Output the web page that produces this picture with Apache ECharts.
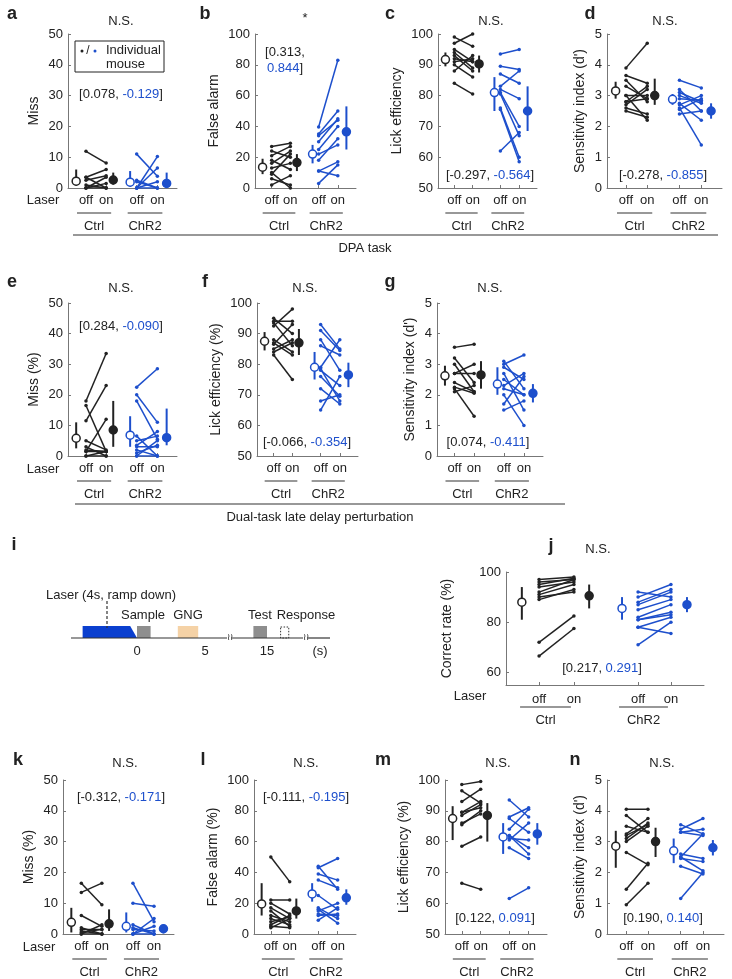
<!DOCTYPE html>
<html><head><meta charset="utf-8">
<script src="https://cdn.jsdelivr.net/npm/echarts@6/dist/echarts.min.js"></script>
<style>html,body{margin:0;background:#fff}#c{width:732px;height:979px}</style>
</head><body><div id="c"></div>
<script>
// ---------- DATA ----------
// x slots on a 0..10 axis: [ctrlMeanOff, ctrlOff, ctrlOn, ctrlMeanOn, chr2MeanOff, chr2Off, chr2On, chr2MeanOn]
const xSlots = [0.75, 1.65, 3.5, 4.15, 5.7, 6.3, 8.2, 9.05];
const xSlotsJ = [0.8, 1.67, 3.43, 4.2, 5.86, 6.67, 8.33, 9.14];
const laserLabels = ['off', 'on'];
const groupLabels = ['Ctrl', 'ChR2'];

// each pair: [laser off, laser on]; stats: [mean, low, high] for ctrlOff, ctrlOn, chr2Off, chr2On
const a_ctrl = [[11.9,8.1],[3.5,6.0],[2.5,4.0],[0,3.5],[3.5,0],[0,0],[1.0,0],[0,1.5]];
const a_chr2 = [[11,3.8],[0,10.2],[2.5,0],[0,6.5],[0,0],[2,0],[0,2]];
const a_stats = [[2.2,0.8,6],[2.6,1.1,5],[1.9,0.5,5.5],[1.5,0.2,5]];

const b_ctrl = [[27,29],[24,20],[21,27],[18,12],[16,24],[13,16],[9,22],[6,2],[2,8],[10,0]];
const b_chr2 = [[39.6,83],[35,50],[34,44],[30,45],[25,40],[22,28],[18,32],[11,17],[3,15],[11,8]];
const b_stats = [[13.5,9,19],[16.5,11,22],[22,16,28],[36.5,25,53]];

const c_ctrl = [[97,100],[99,96],[95,91],[93,88],[92,91],[91,92],[90,86],[88,93],[84,80.5],[94,89]];
const c_chr2 = [[93.5,95],[89.5,88.5],[87,84],[83,88],[82,79],[81,70],[80.5,67],[76,60],[62,68],[75.5,58.5]];
const c_stats = [[91.7,89.5,94],[90.3,87.5,93],[81,75,86],[75,68.5,83]];

const d_ctrl = [[3.9,4.7],[3.65,3.4],[3.5,2.8],[3.3,2.9],[3.0,3.0],[3.0,2.2],[2.8,2.9],[2.7,3.2],[2.6,2.4],[2.5,2.3],[2.8,3.3]];
const d_chr2 = [[3.5,3.25],[3.2,2.5],[3.1,2.8],[3.0,2.75],[2.9,2.85],[2.75,2.2],[2.6,1.4],[2.55,2.9],[2.4,2.5],[2.7,3.0]];
const d_stats = [[3.15,2.9,3.45],[3.0,2.7,3.55],[2.88,2.7,3.05],[2.5,2.25,2.75]];

const e_ctrl = [[18,33.5],[11.5,23],[16.5,1.5],[1.5,12],[5,2],[3,0],[0,1.5],[0,0],[1.5,1.5],[2,1.5]];
const e_chr2 = [[22.5,28.5],[20,11],[18,5.5],[5,6.5],[6.5,0],[3.5,8],[3,3],[0,5],[2,0],[0,0],[1,3.5]];
const e_stats = [[5.8,2.5,11],[8.5,3,18],[6.8,3,13],[6,3.5,15.5]];

const f_ctrl = [[95,90],[94,94],[92.5,98],[88,84],[86.5,93],[85,88],[84,87],[83,75],[87,83],[93.5,86]];
const f_chr2 = [[93,85],[91,84.5],[88,78],[86,83],[79,88],[78,73],[78.5,68],[72,67],[68,70],[65,76],[76,69.5]];
const f_stats = [[87.5,84.5,90.5],[87,83,91.5],[79,75,84],[76.5,72.5,80.5]];

const g_ctrl = [[3.55,3.65],[3.2,2.4],[2.7,3.0],[2.7,2.7],[2.4,2.1],[2.25,2.05],[2.2,1.3],[2.1,2.3],[3.0,2.1]];
const g_chr2 = [[3.0,3.3],[3.1,2.2],[2.9,2.5],[2.7,1.5],[2.5,2.0],[2.3,2.7],[2.0,1.0],[1.7,2.6],[1.5,1.8],[2.2,2.0]];
const g_stats = [[2.62,2.3,2.95],[2.65,2.2,3.1],[2.35,2.0,2.9],[2.05,1.75,2.35]];

const j_ctrl = [[97,98],[96,97],[95,97.5],[94,96],[92,97],[91,95],[89,93],[90,92],[72,82.5],[66.5,77.5]];
const j_chr2 = [[90,95],[88,93],[92,90],[87,92],[85,89],[82,87],[81,83],[78,82],[71,80],[78,75.5],[81,84]];
const j_stats = [[88,81,94],[90.5,85.5,95],[85.5,81,90],[87,84,90]];

const k_ctrl = [[13.5,16.5],[16.5,9.5],[6,2.5],[1.5,1.5],[0,3],[0,0],[1,0],[0.5,1.5],[2,0]];
const k_chr2 = [[16.5,4],[10,9],[3,0],[0,5],[2,0],[0,2.5],[0,0],[1.5,1]];
const k_stats = [[3.8,0.5,8.5],[3.3,1,8],[2.5,0.5,7],[1.7,0.2,3]];

const l_ctrl = [[50,34],[22,22],[20,13],[17,10],[15,5],[12,8],[8,11],[5,4],[4,10],[10,6],[6,12]];
const l_chr2 = [[43,49],[44,29],[39,35],[35,30],[25,16],[17,10],[15,20],[12,13],[9,17],[16,7],[13,12]];
const l_stats = [[19.5,12,33],[15,10,23],[26,21,33],[23.5,19,29]];

const m_ctrl = [[98.5,99.5],[96.5,92.5],[93,97],[89.5,93],[89.5,91],[88.5,92],[86,89],[85.5,90],[78.5,81.5],[66.5,64.5]];
const m_chr2 = [[93.5,88],[88,91],[87.5,83],[84,90.5],[82,78],[81,80.5],[80.5,86],[78,74.5],[82,76],[61.5,65]];
const m_stats = [[87.5,80.5,91.5],[88.5,80,92.5],[81.5,76,86],[82.5,79,86]];

const n_ctrl = [[4.05,4.05],[3.85,3.3],[3.5,3.3],[3.2,3.55],[3.25,3.75],[3.1,3.6],[2.65,2.25],[1.45,2.3],[0.95,1.65],[3.0,3.5]];
const n_chr2 = [[3.55,3.25],[3.4,3.75],[3.3,3.4],[2.6,2.45],[2.5,3.25],[2.45,2.35],[2.5,2.05],[2.2,1.95],[1.15,2.0],[3.3,3.2]];
const n_stats = [[2.85,2.15,3.35],[3.0,2.5,3.45],[2.7,2.3,3.1],[2.8,2.55,3.05]];

// correlation annotations [ctrl, chr2]
const corr = {a:['0.078','-0.129'],b:['0.313','0.844'],c:['-0.297','-0.564'],d:['-0.278','-0.855'],
  e:['0.284','-0.090'],f:['-0.066','-0.354'],g:['0.074','-0.411'],j:['0.217','0.291'],
  k:['-0.312','-0.171'],l:['-0.111','-0.195'],m:['0.122','0.091'],n:['0.190','0.140']};

// timeline schematic (seconds)
const iTicks = [0, 5, 15];
const iBlocks = [
  {name:'Sample', t0:0, t1:1, color:'#8e8e8e'},
  {name:'GNG', t0:3, t1:4.5, color:'#f5d2a6'},
  {name:'Test', t0:14, t1:15, color:'#8e8e8e'}
];
const iResponse = [16, 16.6];
const iLaser = [-4, -0.5, 0];

// ---------- LAYOUT ----------
const BLACK = '#222', BLUE = '#1d4fcc', AXIS = '#777';
const FONT = 'Liberation Sans, Arial, Helvetica, sans-serif';
const panels = [
  {k:'a', ctrl:a_ctrl, chr2:a_chr2, st:a_stats, g:[68,34,109,154], y:[0,50,10], name:'Miss', gap:27, title:'N.S.', tp:[121,21], lp:[12,14], an:[121,94], laser:[43,200]},
  {k:'b', ctrl:b_ctrl, chr2:b_chr2, st:b_stats, g:[255,34,101,154], y:[0,100,20], name:'False alarm', gap:34, title:'*', tp:[305,18], lp:[205,14], an:[285,52], twoLine:true},
  {k:'c', ctrl:c_ctrl, chr2:c_chr2, st:c_stats, g:[438,34,99,154], y:[50,100,10], name:'Lick efficiency', gap:34, title:'N.S.', tp:[491,21], lp:[390,14], an:[490,175]},
  {k:'d', ctrl:d_ctrl, chr2:d_chr2, st:d_stats, g:[607,34,115,154], y:[0,5,1], name:"Sensitivity index (d')", gap:20, title:'N.S.', tp:[665,21], lp:[590,14], an:[663,175]},
  {k:'e', ctrl:e_ctrl, chr2:e_chr2, st:e_stats, g:[68,303,109,153], y:[0,50,10], name:'Miss (%)', gap:27, title:'N.S.', tp:[121,288], lp:[12,282], an:[121,326], laser:[43,469]},
  {k:'f', ctrl:f_ctrl, chr2:f_chr2, st:f_stats, g:[257,303,101,153], y:[50,100,10], name:'Lick efficiency (%)', gap:34, title:'N.S.', tp:[305,288], lp:[205,282], an:[307,442]},
  {k:'g', ctrl:g_ctrl, chr2:g_chr2, st:g_stats, g:[437,303,106,153], y:[0,5,1], name:"Sensitivity index (d')", gap:20, title:'N.S.', tp:[490,288], lp:[390,282], an:[488,442]},
  {k:'j', ctrl:j_ctrl, chr2:j_chr2, st:j_stats, g:[506,572,198,113], y:[55,100,5], ticks:[60,80,100], name:'Correct rate (%)', gap:52, title:'N.S.', tp:[598,549], lp:[551,546], an:[602,668], laser:[470,696], xs:xSlotsJ, wide:true},
  {k:'k', ctrl:k_ctrl, chr2:k_chr2, st:k_stats, g:[63,780,111,154], y:[0,50,10], name:'Miss (%)', gap:27, title:'N.S.', tp:[125,763], lp:[18,760], an:[121,797], laser:[39,947]},
  {k:'l', ctrl:l_ctrl, chr2:l_chr2, st:l_stats, g:[254,780,102,154], y:[0,100,20], name:'False alarm (%)', gap:34, title:'N.S.', tp:[306,763], lp:[203,760], an:[306,797]},
  {k:'m', ctrl:m_ctrl, chr2:m_chr2, st:m_stats, g:[445,780,102,154], y:[50,100,10], name:'Lick efficiency (%)', gap:34, title:'N.S.', tp:[498,763], lp:[383,760], an:[495,918]},
  {k:'n', ctrl:n_ctrl, chr2:n_chr2, st:n_stats, g:[607,780,117,154], y:[0,5,1], name:"Sensitivity index (d')", gap:20, title:'N.S.', tp:[662,763], lp:[575,760], an:[663,918]}
];

const chart = echarts.init(document.getElementById('c'), null, {renderer:'canvas'});
const grids = [], xAxes = [], yAxes = [], series = [];

panels.forEach((p, i) => {
  const xs = p.xs || xSlots;
  grids.push({left:p.g[0], top:p.g[1], width:p.g[2], height:p.g[3], containLabel:false});
  const offOn = [xs[1], xs[2], xs[5], xs[6]];
  xAxes.push({gridIndex:i, type:'value', min:0, max:10,
    axisLine:{show:true, lineStyle:{color:AXIS, width:1}},
    axisTick:{show:true, inside:true, length:3, customValues:offOn, lineStyle:{color:AXIS}},
    axisLabel:{show:true, customValues:offOn, margin:p.wide?8:6, color:BLACK, fontSize:13, fontFamily:FONT,
      formatter: v => (Math.abs(v-xs[1])<1e-6 || Math.abs(v-xs[5])<1e-6) ? laserLabels[0] : laserLabels[1]},
    splitLine:{show:false}});
  const yAx = {gridIndex:i, type:'value', min:p.y[0], max:p.y[1],
    axisLine:{show:true, lineStyle:{color:AXIS, width:1}},
    axisTick:{show:true, inside:true, length:3, lineStyle:{color:AXIS}},
    axisLabel:{color:BLACK, fontSize:13, fontFamily:FONT, margin:5},
    splitLine:{show:false},
    name:p.name, nameLocation:'middle', nameGap:p.gap,
    nameTextStyle:{color:BLACK, fontSize:14, fontFamily:FONT}};
  if (p.ticks) { yAx.axisLabel.customValues = p.ticks; yAx.axisTick.customValues = p.ticks; }
  else { yAx.interval = p.y[2]; }
  yAxes.push(yAx);

  const addPairs = (pairs, x0, x1, color) => pairs.forEach(pr => series.push({
    type:'line', xAxisIndex:i, yAxisIndex:i, data:[[x0, pr[0]],[x1, pr[1]]],
    symbol:'circle', symbolSize:3.5, showSymbol:true, silent:true, z:2,
    lineStyle:{color, width:1.5}, itemStyle:{color, opacity:1}}));
  addPairs(p.ctrl, xs[1], xs[2], BLACK);
  addPairs(p.chr2, xs[5], xs[6], BLUE);
  const mx = [xs[0], xs[3], xs[4], xs[7]];
  const mc = [BLACK, BLACK, BLUE, BLUE];
  p.st.forEach((s, q) => {
    series.push({type:'line', xAxisIndex:i, yAxisIndex:i, data:[[mx[q], s[1]],[mx[q], s[2]]],
      symbol:'none', silent:true, z:3, lineStyle:{color:mc[q], width:2}});
    series.push({type:'scatter', xAxisIndex:i, yAxisIndex:i, data:[[mx[q], s[0]]], symbol:'circle',
      symbolSize:8, silent:true, z:4,
      itemStyle:{color: q%2===0 ? '#fff' : mc[q], borderColor:mc[q], borderWidth:1.5, opacity:1}});
  });
});

chart.setOption({animation:false, backgroundColor:'#fff', grid:grids, xAxis:xAxes, yAxis:yAxes, series});

// ---------- ANNOTATIONS ----------
const G = [];
const txt = (x, y, text, o={}) => G.push({type:'text', x, y, silent:true, z:10, style:Object.assign({
  text, fill:BLACK, font:(o.bold?'bold ':'') + (o.size||13) + 'px ' + FONT,
  align:o.align||'center', verticalAlign:'middle', textAlign:o.align||'center', textVerticalAlign:'middle'}, o.style||{})});
const line = (x1, y1, x2, y2, o={}) => G.push({type:'line', silent:true, z:10,
  shape:{x1, y1, x2, y2}, style:{stroke:o.color||BLACK, lineWidth:o.w||1, lineDash:o.dash||null}});
const richAnn = (x, y, a, b, twoLine) => {
  const rich = {k:{fill:BLACK, fontSize:13, fontFamily:FONT}, u:{fill:BLUE, fontSize:13, fontFamily:FONT}};
  const text = twoLine ? '{k|[' + a + ',}\n{u|' + b + '}{k|]}' : '{k|[' + a + ', }{u|' + b + '}{k|]}';
  G.push({type:'text', x, y, silent:true, z:10, style:{text, rich, align:'center', verticalAlign:twoLine?'top':'middle',
    textAlign:'center', textVerticalAlign:twoLine?'top':'middle', lineHeight:16, font:'13px ' + FONT}});
};

panels.forEach((p, i) => {
  const xs = p.xs || xSlots;
  txt(p.lp[0], p.lp[1], p.k, {bold:true, size:18});
  txt(p.tp[0], p.tp[1], p.title, {size:13});
  richAnn(p.an[0], p.twoLine ? p.an[1]-8 : p.an[1], corr[p.k][0], corr[p.k][1], p.twoLine);
  if (p.laser) txt(p.laser[0], p.laser[1], 'Laser', {size:13});
  const base = chart.convertToPixel({gridIndex:i}, [0, p.y[0]])[1];
  const uy = base + (p.wide ? 22 : 25);
  [[xs[1], xs[2]], [xs[5], xs[6]]].forEach((pr, q) => {
    const px0 = chart.convertToPixel({gridIndex:i}, [pr[0], p.y[0]])[0];
    const px1 = chart.convertToPixel({gridIndex:i}, [pr[1], p.y[0]])[0];
    const l0 = p.wide ? px0 - 19 : px0 - 9, l1 = p.wide ? px1 - 3 : px1 + 5;
    line(l0, uy, l1, uy, {color:'#333', w:1.2});
    txt((l0 + l1) / 2, uy + 13, groupLabels[q], {size:13});
  });
});

// panel a legend box
G.push({type:'rect', silent:true, z:10, shape:{x:75, y:41, width:89, height:31}, style:{fill:'#fff', stroke:BLACK, lineWidth:1}});
G.push({type:'circle', silent:true, z:11, shape:{cx:82, cy:51, r:1.5}, style:{fill:BLACK}});
txt(88, 51, '/', {size:12});
G.push({type:'circle', silent:true, z:11, shape:{cx:95, cy:51, r:1.5}, style:{fill:BLUE}});
txt(106, 50, 'Individual', {size:13, align:'left'});
txt(106, 64, 'mouse', {size:13, align:'left'});

// task brackets
line(73, 235, 718, 235, {color:'#333', w:1.2});
txt(365, 248, 'DPA task', {size:13});
line(75, 504, 565, 504, {color:'#333', w:1.2});
txt(320, 517, 'Dual-task late delay perturbation', {size:13});

// ---------- PANEL i schematic ----------
txt(14, 545, 'i', {bold:true, size:18});
const tx = t => t <= 10 ? 137 + t * 13.6 : 267 + (t - 15) * 13.6;
const yLine = 638, yTop = 626;
line(71, yLine, 227, yLine, {color:'#333', w:1.2});
line(232, yLine, 303, yLine, {color:'#333', w:1.2});
line(308, yLine, 330, yLine, {color:'#333', w:1.2});
txt(229.5, yLine, '≀≀', {size:9});
txt(305.5, yLine, '≀≀', {size:9});
G.push({type:'polygon', silent:true, z:9, shape:{points:[[tx(iLaser[0]), yLine],[tx(iLaser[0]), yTop],[tx(iLaser[1]), yTop],[tx(iLaser[2]), yLine]]}, style:{fill:'#0a3fcf'}});
iBlocks.forEach(b => G.push({type:'rect', silent:true, z:9, shape:{x:tx(b.t0), y:yTop, width:tx(b.t1)-tx(b.t0), height:yLine-yTop}, style:{fill:b.color}}));
G.push({type:'rect', silent:true, z:9, shape:{x:tx(iResponse[0]), y:yTop+1, width:tx(iResponse[1])-tx(iResponse[0]), height:yLine-yTop-1}, style:{fill:'none', stroke:'#333', lineWidth:1, lineDash:[1.5,1.5]}});
iTicks.forEach(t => txt(tx(t), 651, String(t), {size:13}));
txt(320, 651, '(s)', {size:13});
line(107, 601, 107, 628, {color:'#333', w:1.2, dash:[3,2]});
txt(111, 595, 'Laser (4s, ramp down)', {size:13});
txt(143, 615, 'Sample', {size:13});
txt(188, 615, 'GNG', {size:13});
txt(260, 615, 'Test', {size:13});
txt(306, 615, 'Response', {size:13});

chart.setOption({graphic:{elements:G}});
</script></body></html>
